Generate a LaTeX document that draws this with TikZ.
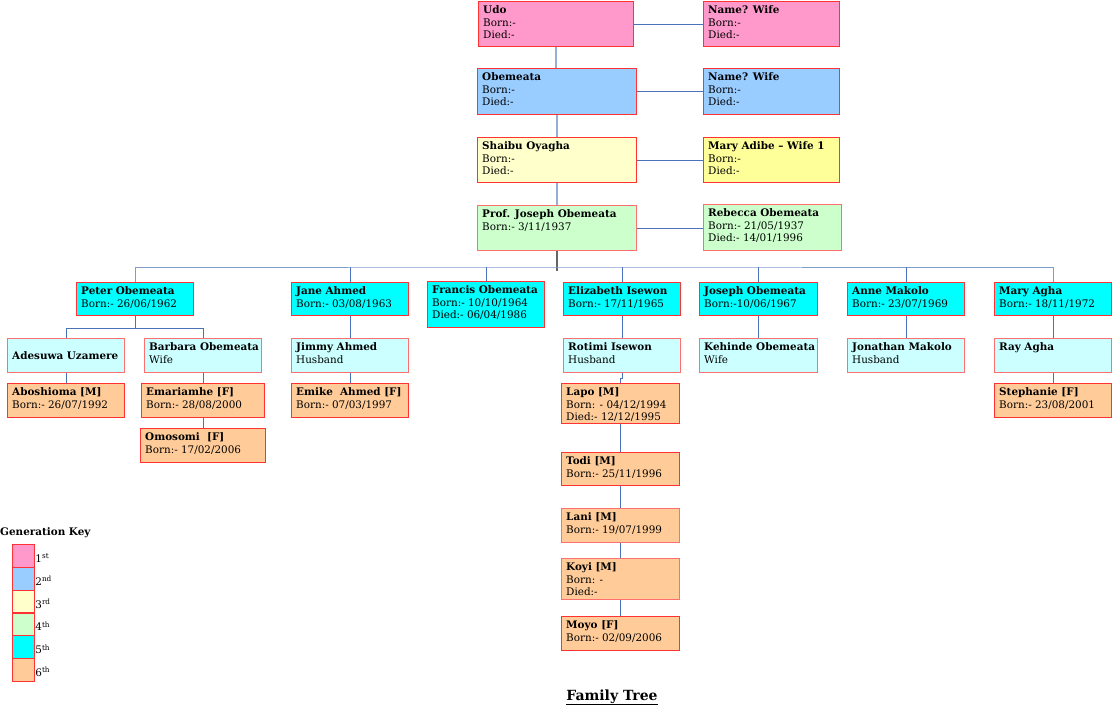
\documentclass[tikz,border=0pt]{standalone}
\usepackage{fontspec}
\setmainfont{DejaVu Serif}
\usepackage{tikz}
\usetikzlibrary{positioning}
\definecolor{gen1}{HTML}{FF99CC}
\definecolor{gen2}{HTML}{99CCFF}
\definecolor{gen3}{HTML}{FFFFCC}
\definecolor{gen3b}{HTML}{FFFF99}
\definecolor{gen4}{HTML}{CCFFCC}
\definecolor{gen5}{HTML}{00FFFF}
\definecolor{gen5b}{HTML}{CCFFFF}
\definecolor{gen6}{HTML}{FFCC99}
\definecolor{redline}{HTML}{FF3333}
\definecolor{paleline}{HTML}{FF6F6F}
\definecolor{linkblue}{HTML}{4A72B8}
\definecolor{genblue}{HTML}{95AED3}
\tikzset{
  pbox/.style={draw=redline, line width=1.2pt, anchor=north west, inner sep=0pt},
  pale/.style={draw=paleline},
  ptext/.style={anchor=north west, inner sep=0pt, align=left,
    font=\fontsize{10.4}{12.5}\selectfont},
  link/.style={draw=linkblue, line width=0.8pt},
  genlink/.style={draw=genblue, line width=1.6pt},
}
% person box: name, x, y, width, height, colour, text
\newcommand{\fperson}[7]{%
  \node[pbox, fill=#6, minimum width=#4pt, minimum height=#5pt] (#1) at (#2,#3) {};
  \node[ptext] at ([xshift=5pt,yshift=-3.75pt]#1.north west) {\strut #7};}

\begin{document}
\begin{tikzpicture}[x=1pt, y=-1pt]
  \useasboundingbox (0,0) rectangle (1112,708);
  %% first four generations
  \fperson{udo}{478}{1}{155}{45}{gen1}{\textbf{Udo}\\Born:-\\Died:-}
  \fperson{wifea}{703}{1}{136}{45}{gen1}{\textbf{Name? Wife}\\Born:-\\Died:-}
  \fperson{obem}{477}{68}{159}{46}{gen2}{\textbf{Obemeata}\\Born:-\\Died:-}
  \fperson{wifeb}{703}{68}{136}{46}{gen2}{\textbf{Name? Wife}\\Born:-\\Died:-}
  \fperson{shaibu}{477}{137}{159}{45}{gen3}{\textbf{Shaibu Oyagha}\\Born:-\\Died:-}
  \fperson{mary}{703}{137}{136}{45}{gen3b}{\textbf{Mary Adibe -- Wife 1}\\Born:-\\Died:-}
  \fperson{prof}{477}{205}{159}{45}{gen4, pale}{\textbf{Prof. Joseph Obemeata}\\Born:- 3/11/1937}
  \fperson{rebecca}{703}{204}{138}{46}{gen4, pale}{\textbf{Rebecca Obemeata}\\Born:- 21/05/1937\\Died:- 14/01/1996}
  %% fifth generation
  \fperson{peter}{76}{282}{117}{33}{gen5}{\textbf{Peter Obemeata}\\Born:- 26/06/1962}
  \fperson{jane}{291}{282}{117}{33}{gen5}{\textbf{Jane Ahmed}\\Born:- 03/08/1963}
  \fperson{francis}{427}{281}{117}{46}{gen5}{\textbf{Francis Obemeata}\\Born:- 10/10/1964\\Died:- 06/04/1986}
  \fperson{eliza}{563}{282}{117}{33}{gen5}{\textbf{Elizabeth Isewon}\\Born:- 17/11/1965}
  \fperson{joseph}{699}{282}{118}{33}{gen5}{\textbf{Joseph Obemeata}\\Born:-10/06/1967}
  \fperson{anne}{847}{282}{117}{33}{gen5}{\textbf{Anne Makolo}\\Born:- 23/07/1969}
  \fperson{marya}{994}{282}{117}{33}{gen5}{\textbf{Mary Agha}\\Born:- 18/11/1972}
  %% spouses
  \node[pbox, pale, fill=gen5b, minimum width=117pt, minimum height=34pt] (adesuwa) at (7,338) {};
  \node[ptext, anchor=west] at ([xshift=5pt]adesuwa.west) {\textbf{Adesuwa Uzamere}};
  \fperson{barbara}{144}{338}{117}{34}{gen5b, pale}{\textbf{Barbara Obemeata}\\Wife}
  \fperson{jimmy}{291}{338}{117}{34}{gen5b, pale}{\textbf{Jimmy Ahmed}\\Husband}
  \fperson{rotimi}{563}{338}{117}{34}{gen5b, pale}{\textbf{Rotimi Isewon}\\Husband}
  \fperson{kehinde}{699}{338}{118}{34}{gen5b, pale}{\textbf{Kehinde Obemeata}\\Wife}
  \fperson{jonathan}{847}{338}{117}{34}{gen5b, pale}{\textbf{Jonathan Makolo}\\Husband}
  \fperson{ray}{994}{338}{117}{34}{gen5b, pale}{\textbf{Ray Agha}}
  %% sixth generation
  \fperson{abosh}{7}{383}{117}{34}{gen6}{\textbf{Aboshioma [M]}\\Born:- 26/07/1992}
  \fperson{emari}{141}{383}{123}{34}{gen6}{\textbf{Emariamhe [F]}\\Born:- 28/08/2000}
  \fperson{omosomi}{140}{428}{125}{34}{gen6}{\textbf{Omosomi~ [F]}\\Born:- 17/02/2006}
  \fperson{emike}{291}{383}{117}{34}{gen6}{\textbf{Emike~ Ahmed [F]}\\Born:- 07/03/1997}
  \fperson{lapo}{561}{383}{118}{40}{gen6}{\textbf{Lapo [M]}\\Born: - 04/12/1994\\Died:- 12/12/1995}
  \fperson{todi}{561}{452}{118}{33}{gen6}{\textbf{Todi [M]}\\Born:- 25/11/1996}
  \fperson{lani}{561}{508}{118}{34}{gen6, pale}{\textbf{Lani [M]}\\Born:- 19/07/1999}
  \fperson{koyi}{561}{558}{118}{41}{gen6, pale}{\textbf{Koyi [M]}\\Born: -\\Died:-}
  \fperson{moyo}{561}{616}{118}{34}{gen6}{\textbf{Moyo [F]}\\Born:- 02/09/2006}
  \fperson{steph}{994}{383}{117}{34}{gen6}{\textbf{Stephanie [F]}\\Born:- 23/08/2001}
  %% marriages
  \draw[link] (udo) -- (wifea);
  \draw[link] (obem) -- (wifeb);
  \draw[link] (shaibu) -- (mary);
  \draw[link] (prof.east) -- (prof.east -| rebecca.west);
  %% line of descent
  \draw[genlink] (udo.south) -- (udo.south |- obem.north);
  \draw[genlink] (obem.south) -- (obem.south |- shaibu.north);
  \draw[genlink] (shaibu.south) -- (shaibu.south |- prof.north);
  \coordinate (bar) at (556,267);
  \draw[black!60, line width=1.6pt] (prof.south) -- ++(0,20);
  \draw[link, draw=genblue!70!linkblue] (peter.north) |- (bar) -| (marya.north);
  \foreach \c in {jane,francis,eliza,joseph,anne}
    \draw[link] (\c.north) -- (\c.north |- bar);
  %% children
  \draw[link] (peter.south) -- ++(0,12) coordinate (pk);
  \draw[link] (adesuwa.north) |- (pk) -| (barbara.north);
  \draw[link] (adesuwa) -- (abosh);
  \draw[link] (barbara) -- (emari) -- (omosomi);
  \draw[link] (jane) -- (jimmy) -- (emike);
  \draw[link] (eliza) -- (rotimi);
  \draw[link] (rotimi.south) -- ++(0,5) -| (lapo.north);
  \draw[link] (lapo) -- (todi) -- (lani) -- (koyi) -- (moyo);
  \draw[link] (joseph) -- (kehinde);
  \draw[link] (anne) -- (jonathan);
  \draw[link] (marya) -- (ray) -- (steph);
  %% generation key
  \node[anchor=base west, inner sep=0pt, font=\fontsize{10.4}{12}\selectfont\bfseries] (keytitle) at (0,536) {Generation Key};
  \foreach \c/\s [count=\i] in {gen1/st,gen2/nd,gen3/rd,gen4/th,gen5/th,gen6/th} {
    \node[pbox, fill=\c, minimum width=22pt, minimum height=22.8pt] (key\i) at (12,521.2+22.8*\i) {};
    \node[anchor=west, inner sep=0pt, font=\fontsize{10.4}{12}\selectfont] at ([yshift=-2pt]key\i.east) {\i\textsuperscript{\s}};
  }
  %% title
  \node[anchor=base, inner sep=0pt, font=\fontsize{14}{16}\selectfont\bfseries] (title) at (612,700) {\underline{Family Tree}};
\end{tikzpicture}
\end{document}
